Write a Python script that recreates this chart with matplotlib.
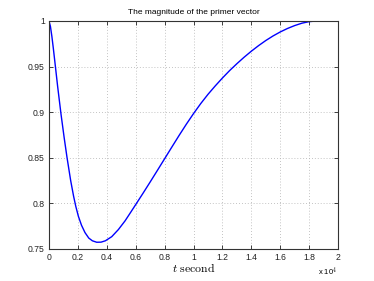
import matplotlib
matplotlib.use('Agg')
import matplotlib.pyplot as plt
from matplotlib.ticker import FuncFormatter

# primer vector magnitude (t in seconds)
t_sec = [0, 100, 200, 300, 415, 600, 830, 1050, 1250, 1500, 1700, 1850, 2030,
         2250, 2490, 2750, 3000, 3300, 3600, 3900, 4340, 4800, 5260, 5600, 5970,
         6500, 7000, 7500, 8000, 8500, 9000, 9500, 10000, 10500, 11000, 11500,
         12000, 12500, 13000, 13500, 14000, 14500, 15000, 15500, 16000, 16500,
         17000, 17500, 18000, 18500, 18950]
p_mag = [1.0, 0.994, 0.983, 0.970, 0.954, 0.928, 0.898, 0.872, 0.850, 0.825,
         0.808, 0.797, 0.786, 0.776, 0.768, 0.762, 0.7590, 0.7574, 0.7575, 0.7590,
         0.7635, 0.7713, 0.7808, 0.7890, 0.7980, 0.8110, 0.8235, 0.8362, 0.8490,
         0.8618, 0.8745, 0.8868, 0.8985, 0.9095, 0.9196, 0.9288, 0.9375, 0.9457,
         0.9532, 0.9603, 0.9669, 0.9730, 0.9786, 0.9836, 0.9880, 0.9918, 0.9950,
         0.9976, 0.9993, 1.0, 1.0]

x_ticks = [0, 2000, 4000, 6000, 8000, 10000, 12000, 14000, 16000, 18000, 20000]
y_ticks = [0.75, 0.8, 0.85, 0.9, 0.95, 1.0]

plt.rcParams['font.family'] = ['Liberation Sans', 'DejaVu Sans']
plt.rcParams['mathtext.fontset'] = 'cm'

fig = plt.figure(figsize=(3.74, 2.81), dpi=100)
ax = fig.add_axes([0.131, 0.1139, 0.773, 0.8114])

ax.plot(t_sec, p_mag, color='#0000ff', lw=1.0)

ax.set_xlim(0, 20000)
ax.set_ylim(0.75, 1.0)
ax.set_xticks(x_ticks)
ax.set_yticks(y_ticks)
ax.xaxis.set_major_formatter(FuncFormatter(lambda v, pos: '%g' % (v / 1e4)))
ax.yaxis.set_major_formatter(FuncFormatter(lambda v, pos: '%g' % v))

ax.grid(True, linestyle=(0, (1, 2.5)), color='#b0b0b0', lw=0.6)
ax.tick_params(direction='in', length=3, width=0.6, labelsize=6.2,
               top=True, right=True, pad=3, colors='#222222')
for s in ax.spines.values():
    s.set_linewidth(0.8)
    s.set_color('#333333')

ax.set_title('The magnitude of the primer vector', fontsize=6, pad=5)
ax.set_xlabel(r'$t\ \mathrm{second}$', fontsize=8.5, labelpad=0)
ax.text(0.997, -0.099, r'x 10$^4$', transform=ax.transAxes, fontsize=5.5,
        ha='right', va='center')

fig.savefig('out.png', dpi=100)
